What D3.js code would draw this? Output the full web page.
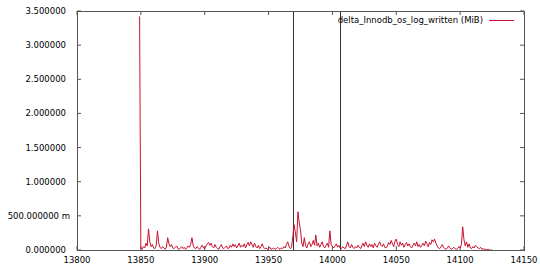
<!DOCTYPE html>
<html>
<head>
<meta charset="utf-8">
<script src="https://cdn.jsdelivr.net/npm/d3@7"></script>
<style>
  body { margin: 0; background: #fff; }
  svg { display: block; font-family: "DejaVu Sans", sans-serif; }
</style>
</head>
<body>
<svg id="svg" width="540" height="270"></svg>
<script>
// first sample time, one sample per unit after that
const startTime = 13849
const values = [
  3.42, 0.02, 0.01, 0.05, 0.03, 0.10, 0.06, 0.31, 0.12, 0.05, 0.08, 0.03, 0.02, 0.06, 0.28, 0.10, 0.04, 0.02, 0.05, 0.03, 0.01, 0.04,
  0.18, 0.09, 0.05, 0.08, 0.03, 0.02, 0.04, 0.06, 0.02, 0.01, 0.03, 0.05, 0.02, 0.04, 0.01, 0.03, 0.06, 0.04, 0.08, 0.18,
  0.06, 0.03, 0.02, 0.05, 0.03, 0.01, 0.04, 0.07, 0.03, 0.02, 0.06, 0.09, 0.11, 0.07, 0.10, 0.05, 0.03, 0.08, 0.04, 0.02,
  0.01, 0.05, 0.08, 0.03, 0.02, 0.04, 0.06, 0.02, 0.03, 0.07, 0.04, 0.09, 0.05, 0.08, 0.03, 0.06, 0.10, 0.04, 0.07, 0.05,
  0.09, 0.03, 0.08, 0.11, 0.06, 0.12, 0.08, 0.04, 0.10, 0.05, 0.03, 0.07, 0.02, 0.05, 0.09, 0.04, 0.02, 0.03, 0.01, 0.02,
  0.04, 0.01, 0.02, 0.03, 0.01, 0.02, 0.04, 0.02, 0.01, 0.03, 0.02, 0.05, 0.03, 0.08, 0.12, 0.05, 0.02, 0.04, 0.20, 0.37,
  0.25, 0.12, 0.56, 0.40, 0.29, 0.10, 0.05, 0.18, 0.06, 0.03, 0.09, 0.12, 0.05, 0.08, 0.14, 0.07, 0.22, 0.06, 0.10, 0.04,
  0.08, 0.12, 0.05, 0.03, 0.07, 0.10, 0.04, 0.28, 0.08, 0.05, 0.03, 0.06, 0.09, 0.04, 0.07, 0.03, 0.02, 0.05, 0.03, 0.02,
  0.06, 0.12, 0.05, 0.03, 0.08, 0.04, 0.02, 0.05, 0.03, 0.07, 0.04, 0.02, 0.06, 0.10, 0.05, 0.12, 0.07, 0.04, 0.09, 0.05,
  0.08, 0.03, 0.10, 0.06, 0.04, 0.08, 0.12, 0.07, 0.05, 0.09, 0.04, 0.03, 0.06, 0.11, 0.08, 0.14, 0.09, 0.05, 0.13, 0.16,
  0.08, 0.05, 0.12, 0.07, 0.10, 0.04, 0.08, 0.11, 0.06, 0.09, 0.05, 0.03, 0.07, 0.10, 0.06, 0.12, 0.05, 0.08, 0.04, 0.07,
  0.10, 0.06, 0.13, 0.09, 0.05, 0.11, 0.08, 0.15, 0.12, 0.16, 0.10, 0.06, 0.03, 0.02, 0.05, 0.08, 0.04, 0.02, 0.01, 0.03,
  0.06, 0.03, 0.01, 0.02, 0.04, 0.02, 0.01, 0.02, 0.05, 0.03, 0.08, 0.34, 0.15, 0.06, 0.12, 0.04, 0.09, 0.03, 0.02, 0.05,
  0.03, 0.07, 0.05, 0.03, 0.02, 0.04, 0.01, 0.02, 0.01, 0.01, 0.00, 0.01, 0.00, 0.00, 0.00
]
const xTicks = [13800, 13850, 13900, 13950, 14000, 14050, 14100, 14150]
const yTicks = [0, 0.5, 1, 1.5, 2, 2.5, 3, 3.5]
const yTickLabels = ["0.000000", "500.000000 m", "1.000000", "1.500000", "2.000000", "2.500000", "3.000000", "3.500000"]
const markers = [13969, 14006]
const seriesName = "delta_Innodb_os_log_written (MiB)"

const svg = d3.select("#svg")
const mLeft = 77, mRight = 524, mTop = 11, mBottom = 250
const axisColor = "#555"

const x = d3.scaleLinear().domain([13800, 14150]).range([mLeft, mRight])
const y = d3.scaleLinear().domain([0, 3.5]).range([mBottom, mTop])

const data = values.map((v, i) => ({ t: startTime + i, v: v }))

// ticks, inward on all four sides (gnuplot mirror)
const tickLen = 4
svg.append("g").selectAll("line").data(xTicks).enter().append("line")
  .attr("x1", d => x(d)).attr("x2", d => x(d))
  .attr("y1", mBottom).attr("y2", mBottom - tickLen)
  .attr("stroke", axisColor)
svg.append("g").selectAll("line").data(xTicks).enter().append("line")
  .attr("x1", d => x(d)).attr("x2", d => x(d))
  .attr("y1", mTop).attr("y2", mTop + tickLen)
  .attr("stroke", axisColor)
svg.append("g").selectAll("line").data(yTicks).enter().append("line")
  .attr("x1", mLeft).attr("x2", mLeft + tickLen)
  .attr("y1", d => y(d)).attr("y2", d => y(d))
  .attr("stroke", axisColor)
svg.append("g").selectAll("line").data(yTicks).enter().append("line")
  .attr("x1", mRight).attr("x2", mRight - tickLen)
  .attr("y1", d => y(d)).attr("y2", d => y(d))
  .attr("stroke", axisColor)

// tick labels
svg.append("g").selectAll("text").data(xTicks).enter().append("text")
  .attr("x", d => x(d)).attr("y", 263)
  .attr("text-anchor", "middle")
  .attr("font-size", 8.5).attr("fill", "#000")
  .text(d => d)
svg.append("g").selectAll("text").data(yTicks).enter().append("text")
  .attr("x", d => d === 0.5 ? 70 : 66).attr("y", d => y(d) + 3)
  .attr("text-anchor", "end")
  .attr("font-size", 8.5).attr("fill", "#000")
  .text((d, i) => yTickLabels[i])

// marker lines
svg.append("g").selectAll("line").data(markers).enter().append("line")
  .attr("x1", d => Math.round(x(d)) + 0.5).attr("x2", d => Math.round(x(d)) + 0.5)
  .attr("y1", mTop).attr("y2", mBottom)
  .attr("stroke", "#333").attr("stroke-width", 1)

// series
const line = d3.line().x(d => x(d.t)).y(d => y(d.v))
svg.append("path").datum(data)
  .attr("d", line)
  .attr("fill", "none")
  .attr("stroke", "#c8102e")
  .attr("stroke-width", 1)

// border
svg.append("rect")
  .attr("x", mLeft + 0.5).attr("y", mTop + 0.5)
  .attr("width", mRight - mLeft).attr("height", mBottom - mTop)
  .attr("fill", "none").attr("stroke", axisColor)

// legend
svg.append("text")
  .attr("x", 483).attr("y", 23)
  .attr("text-anchor", "end")
  .attr("font-size", 8.5).attr("fill", "#000")
  .text(seriesName)
svg.append("line")
  .attr("x1", 489).attr("x2", 514).attr("y1", 20.5).attr("y2", 20.5)
  .attr("stroke", "#c8102e")
</script>
</body>
</html>
